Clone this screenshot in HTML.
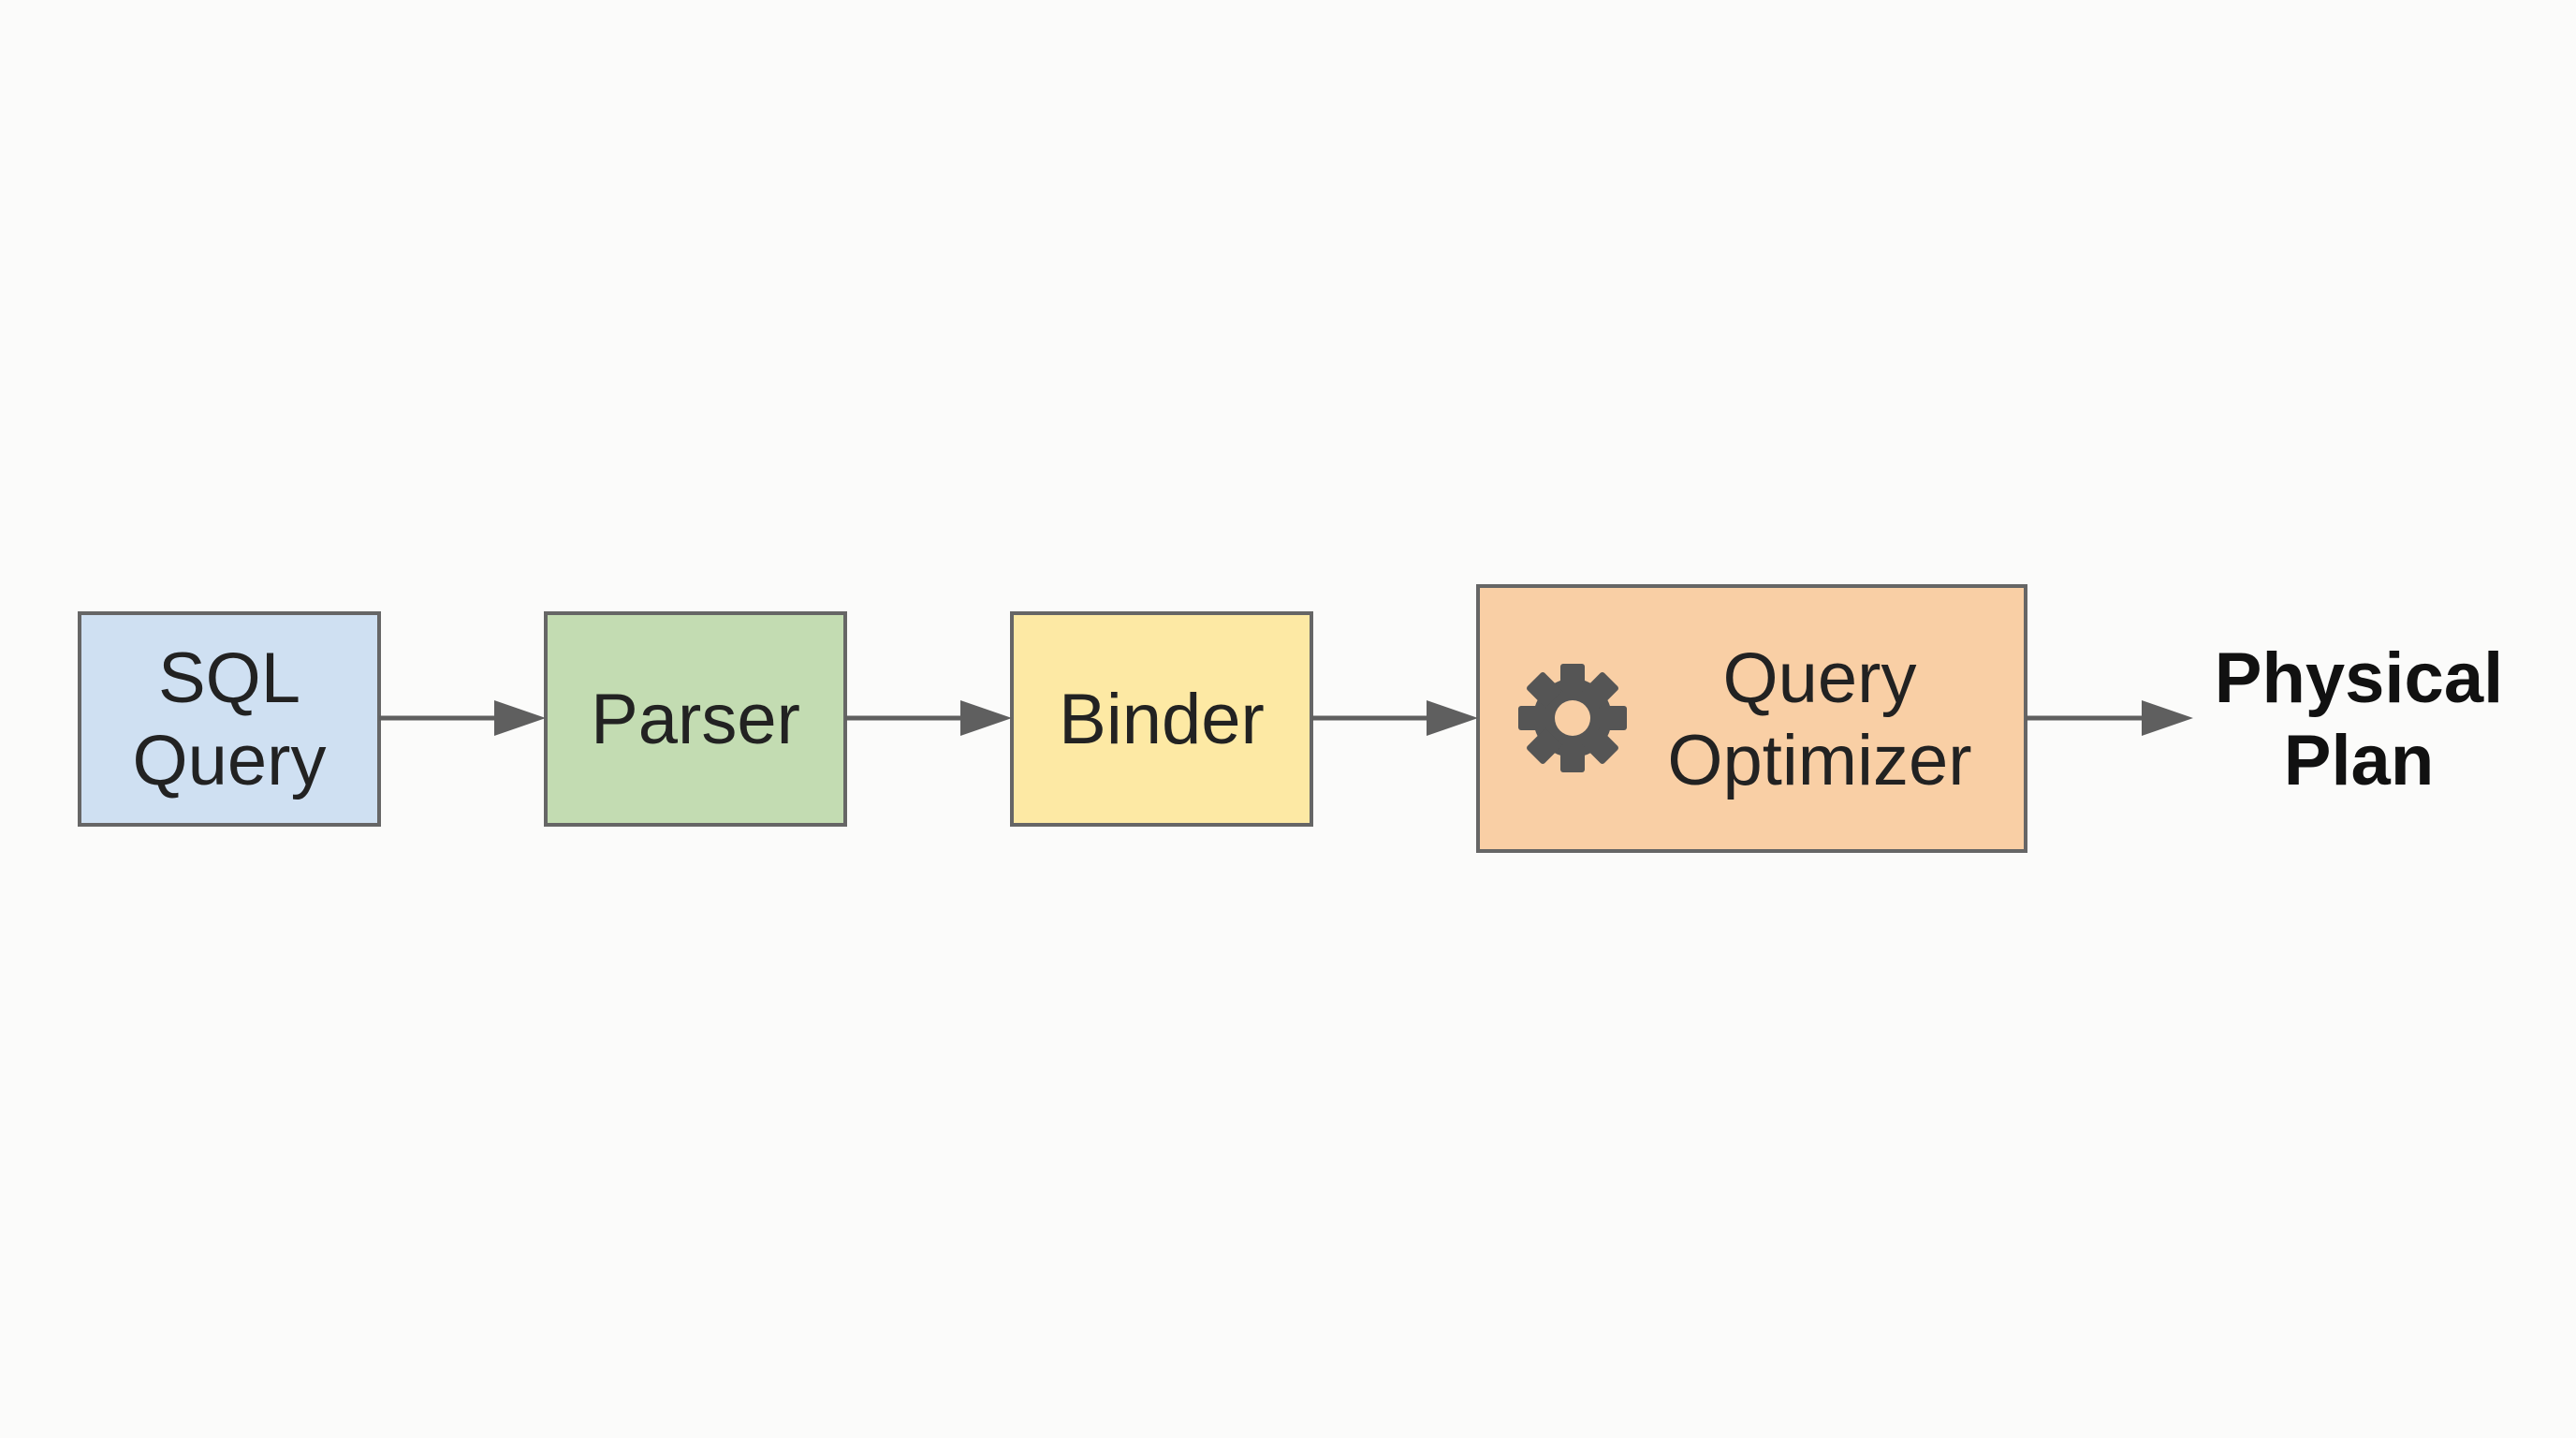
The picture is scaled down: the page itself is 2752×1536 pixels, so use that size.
<!DOCTYPE html>
<html><head><meta charset="utf-8"><style>
html,body{margin:0;padding:0;background:#fbfbfa;}
svg{display:block}
text{font-family:"Liberation Sans",sans-serif;}
</style></head><body>
<svg width="2752" height="1536" viewBox="0 0 2752 1536" xmlns="http://www.w3.org/2000/svg">
<rect width="2752" height="1536" fill="#fbfbfa"/>
<defs><marker id="ah" markerWidth="10" markerHeight="10" refX="9" refY="5" orient="auto" markerUnits="userSpaceOnUse" viewBox="0 0 10 10"><path d="M0,0 L10,5 L0,10 z" fill="#5f5f5f"/></marker></defs>
<g stroke="#666" stroke-width="4">
<rect x="85" y="655" width="320" height="226" fill="#cfe0f2"/>
<rect x="583" y="655" width="320" height="226" fill="#c3dcb2"/>
<rect x="1081" y="655" width="320" height="226" fill="#fde9a4"/>
<rect x="1579" y="626" width="585" height="283" fill="#f9cfa5"/>
</g>
<g stroke="#5f5f5f" stroke-width="5">
<line x1="405" y1="767" x2="530" y2="767"/>
<line x1="903" y1="767" x2="1028" y2="767"/>
<line x1="1401" y1="767" x2="1526" y2="767"/>
<line x1="2164" y1="767" x2="2290" y2="767"/>
</g>
<g fill="#5f5f5f">
<path d="M528,748 L583,767 L528,786 z"/>
<path d="M1026,748 L1081,767 L1026,786 z"/>
<path d="M1524,748 L1579,767 L1524,786 z"/>
<path d="M2288,748 L2343,767 L2288,786 z"/>
</g>
<g font-size="76" fill="#222" text-anchor="middle">
<text x="245" y="750">SQL</text>
<text x="245" y="838">Query</text>
<text x="743" y="794">Parser</text>
<text x="1241" y="794">Binder</text>
<text x="1944" y="750">Query</text>
<text x="1944" y="838">Optimizer</text>
</g>
<g font-size="76" font-weight="bold" fill="#111" text-anchor="middle">
<text x="2520" y="750">Physical</text>
<text x="2520" y="838">Plan</text>
</g>
<g transform="translate(1680,767)" fill="#555">
<circle r="42"/>
<g>
<rect x="-13" y="-58" width="26" height="30" rx="3"/>
<rect x="-13" y="-58" width="26" height="30" rx="3" transform="rotate(45)"/>
<rect x="-13" y="-58" width="26" height="30" rx="3" transform="rotate(90)"/>
<rect x="-13" y="-58" width="26" height="30" rx="3" transform="rotate(135)"/>
<rect x="-13" y="-58" width="26" height="30" rx="3" transform="rotate(180)"/>
<rect x="-13" y="-58" width="26" height="30" rx="3" transform="rotate(225)"/>
<rect x="-13" y="-58" width="26" height="30" rx="3" transform="rotate(270)"/>
<rect x="-13" y="-58" width="26" height="30" rx="3" transform="rotate(315)"/>
</g>
<circle r="19" fill="#f9cfa5"/>
</g>
</svg>
</body></html>
